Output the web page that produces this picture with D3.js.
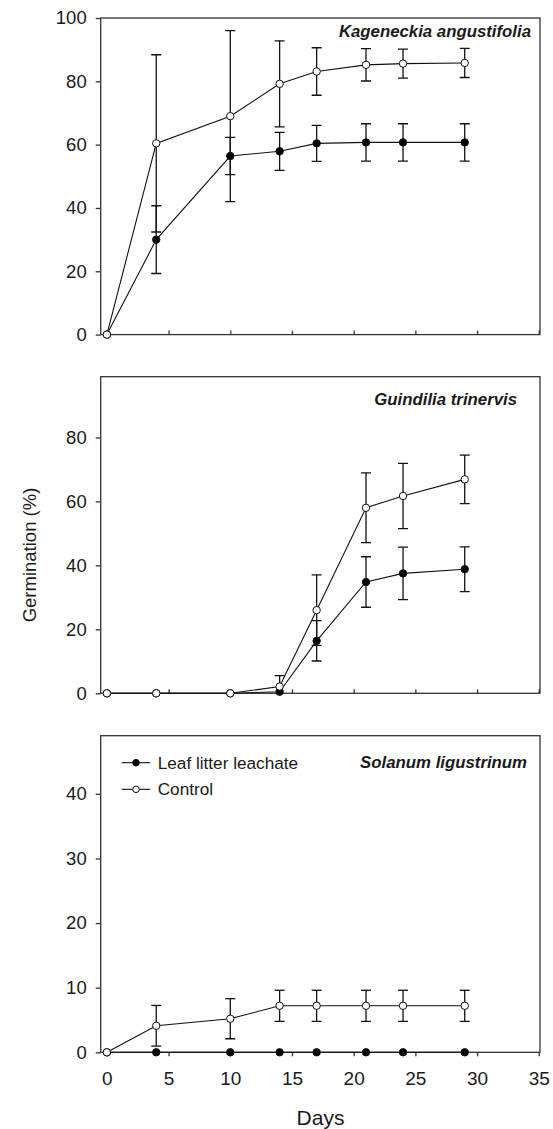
<!DOCTYPE html>
<html>
<head>
<meta charset="utf-8">
<script src="https://cdn.jsdelivr.net/npm/d3@7"></script>
<style>
  body { margin: 0; background: #fff; }
  text { font-family: "Liberation Sans", Arial, sans-serif; fill: #1a1a1a; }
</style>
</head>
<body>
<script>
// Días de muestreo
const days = [0, 4, 10, 14, 17, 21, 24, 29];

// Kageneckia angustifolia
const kagLeachate = [0, 30.0, 56.4, 57.9, 60.4, 60.7, 60.7, 60.7];
const kagLeachateErr = [0, 10.7, 5.9, 6.0, 5.7, 5.9, 5.9, 5.9];
const kagControl = [0, 60.4, 69.0, 79.2, 83.1, 85.2, 85.6, 85.8];
const kagControlErr = [0, 28.0, 27.0, 13.6, 7.5, 5.1, 4.6, 4.6];

// Guindilia trinervis
const guiLeachate = [0, 0, 0, 0.5, 16.4, 34.8, 37.5, 38.8];
const guiLeachateErr = [0, 0, 0, 0, 6.3, 7.9, 8.2, 7.0];
const guiControl = [0, 0, 0, 2.1, 26.0, 58.0, 61.7, 66.9];
const guiControlErr = [0, 0, 0, 3.4, 11.0, 10.9, 10.2, 7.6];

// Solanum ligustrinum
const solLeachate = [0, 0, 0, 0, 0, 0, 0, 0];
const solLeachateErr = [0, 0, 0, 0, 0, 0, 0, 0];
const solControl = [0, 4.1, 5.2, 7.2, 7.2, 7.2, 7.2, 7.2];
const solControlErr = [0, 3.15, 3.1, 2.4, 2.4, 2.4, 2.4, 2.4];

const xTicks = [0, 5, 10, 15, 20, 25, 30, 35];
const seriesNames = ["Leaf litter leachate", "Control"];

const panels = [
  { title: "Kageneckia angustifolia", top: 18, yMax: 100, yTicks: [0, 20, 40, 60, 80, 100],
    leach: kagLeachate, leachErr: kagLeachateErr, ctrl: kagControl, ctrlErr: kagControlErr, tx: 531, ty: 19 },
  { title: "Guindilia trinervis", top: 376.7, yMax: 99, yTicks: [0, 20, 40, 60, 80],
    leach: guiLeachate, leachErr: guiLeachateErr, ctrl: guiControl, ctrlErr: guiControlErr, tx: 517, ty: 28 },
  { title: "Solanum ligustrinum", top: 735.7, yMax: 49, yTicks: [0, 10, 20, 30, 40],
    leach: solLeachate, leachErr: solLeachateErr, ctrl: solControl, ctrlErr: solControlErr, tx: 527, ty: 32, last: true },
];

const W = 553, H = 1129;
const left = 100.7, right = 540, panelH = 316.6;
const axisColor = "#333";

const svg = d3.select("body").append("svg").attr("width", W).attr("height", H);

const x = d3.scaleLinear().domain([-0.5, 35.1]).range([left, right]);

panels.forEach((p, k) => {
  const y = d3.scaleLinear().domain([0, p.yMax]).range([p.top + panelH, p.top]);
  const g = svg.append("g");

  // Recorte: las barras de error no bajan del eje
  svg.append("clipPath").attr("id", "clip" + k)
    .append("rect").attr("x", 0).attr("y", p.top - 5).attr("width", W).attr("height", panelH + 5);

  // Caja del panel
  g.append("rect")
    .attr("x", left).attr("y", p.top)
    .attr("width", right - left).attr("height", panelH)
    .attr("fill", "none").attr("stroke", axisColor).attr("stroke-width", 1.3);

  const yAxis = g.append("g")
    .attr("transform", `translate(${left},0)`)
    .call(d3.axisLeft(y).tickValues(p.yTicks).tickSize(5).tickPadding(9).tickSizeOuter(0));
  yAxis.select(".domain").remove();
  yAxis.selectAll("line").attr("stroke", axisColor).attr("stroke-width", 1.3);
  yAxis.selectAll("text").style("font-size", "18.5px").attr("fill", "#1a1a1a");

  const xAxis = g.append("g")
    .attr("transform", `translate(0,${p.top + panelH})`)
    .call(
      d3.axisBottom(x)
        .tickValues(xTicks)
        .tickSize(p.last ? 4 : -4)
        .tickPadding(p.last ? 15 : 3)
        .tickSizeOuter(0)
        .tickFormat(p.last ? d3.format("d") : "")
    );
  xAxis.select(".domain").remove();
  xAxis.selectAll("line").attr("stroke", axisColor).attr("stroke-width", 1.3);
  xAxis.selectAll("text").style("font-size", "19px").attr("fill", "#1a1a1a");

  // Título de la especie
  g.append("text")
    .attr("x", p.tx).attr("y", p.top + p.ty)
    .attr("text-anchor", "end")
    .style("font-size", "16.8px").style("font-weight", "bold").style("font-style", "italic")
    .text(p.title);

  const series = [
    { vals: p.leach, err: p.leachErr, fill: "#000" },
    { vals: p.ctrl, err: p.ctrlErr, fill: "#fff" },
  ];

  const line = d3.line().x((d) => x(d.day)).y((d) => y(d.v));

  series.forEach((s) => {
    const pts = days.map((d, i) => ({ day: d, v: s.vals[i], e: s.err[i] }));
    const withErr = pts.filter((d) => d.e > 0);

    // Barras de error
    const eb = g.append("g").attr("clip-path", `url(#clip${k})`)
      .attr("stroke", "#111").attr("stroke-width", 1.3);
    eb.selectAll("line.v").data(withErr).enter().append("line")
      .attr("x1", (d) => x(d.day)).attr("x2", (d) => x(d.day))
      .attr("y1", (d) => y(d.v - d.e)).attr("y2", (d) => y(d.v + d.e));
    eb.selectAll("line.t").data(withErr).enter().append("line")
      .attr("x1", (d) => x(d.day) - 5).attr("x2", (d) => x(d.day) + 5)
      .attr("y1", (d) => y(d.v + d.e)).attr("y2", (d) => y(d.v + d.e));
    eb.selectAll("line.b").data(withErr.filter((d) => d.v - d.e >= 0)).enter().append("line")
      .attr("x1", (d) => x(d.day) - 5).attr("x2", (d) => x(d.day) + 5)
      .attr("y1", (d) => y(d.v - d.e)).attr("y2", (d) => y(d.v - d.e));

    g.append("path").datum(pts)
      .attr("d", line).attr("fill", "none").attr("stroke", "#111").attr("stroke-width", 1.1);
  });

  series.forEach((s) => {
    const pts = days.map((d, i) => ({ day: d, v: s.vals[i] }));
    g.selectAll(null).data(pts).enter().append("circle")
      .attr("cx", (d) => x(d.day)).attr("cy", (d) => y(d.v)).attr("r", 3.7)
      .attr("fill", s.fill).attr("stroke", "#111").attr("stroke-width", 1);
  });

  // Leyenda en el último panel
  if (p.last) {
    const lg = g.selectAll("g.leg").data(seriesNames).enter().append("g")
      .attr("transform", (_, i) => `translate(121.7,${762.7 + i * 26.6})`);
    lg.append("line").attr("x1", 0).attr("x2", 28.5).attr("stroke", "#111").attr("stroke-width", 1.1);
    lg.append("circle").attr("cx", 14.3).attr("r", 3.3)
      .attr("fill", (_, i) => (i === 0 ? "#000" : "#fff")).attr("stroke", "#111");
    lg.append("text").attr("x", 36).attr("dy", "0.35em").style("font-size", "17.2px").text((d) => d);
  }
});

// Títulos de ejes
svg.append("text")
  .attr("transform", `translate(36,555) rotate(-90)`)
  .attr("text-anchor", "middle")
  .style("font-size", "18.5px")
  .text("Germination (%)");

svg.append("text")
  .attr("x", 320.5).attr("y", 1125)
  .attr("text-anchor", "middle")
  .style("font-size", "21px")
  .text("Days");
</script>
</body>
</html>
